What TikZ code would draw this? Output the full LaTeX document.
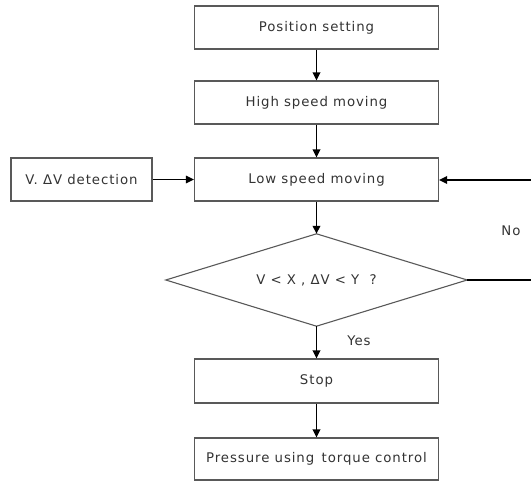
\documentclass[tikz,border=0pt]{standalone}
\usepackage{fontspec}
\setmainfont[LetterSpace=7]{DejaVu Sans}
\usetikzlibrary{arrows.meta}
\begin{document}
\begin{tikzpicture}[x=1pt,y=-1pt,
  box/.style={draw=black!65, line width=1.1pt, rectangle, inner sep=0pt, text=black!80, font=\fontsize{13.3}{15}\selectfont},
  arr/.style={draw=black, line width=1.8pt, -{Triangle[length=8pt,width=7.5pt]}},
  lbl/.style={text=black!80, font=\fontsize{13.3}{15}\selectfont, inner sep=0pt}]
\useasboundingbox (0,0) rectangle (531,481);
\node[box, minimum width=244pt, minimum height=43pt] (pos) at (316.5,27.5) {Position setting};
\node[box, minimum width=244pt, minimum height=43pt] (high) at (316.5,102.5) {High speed moving};
\node[box, minimum width=244pt, minimum height=43pt] (low) at (316.5,179.5) {Low speed moving};
\node[box, minimum width=141pt, minimum height=43pt] (det) at (81.5,179.5) {V. ΔV detection};
\node[lbl, minimum width=301pt, minimum height=92pt] (dia) at (316.5,280) {V < X , ΔV < Y \ ?};
\draw[black!65, line width=1.1pt] (dia.north) -- (dia.east) -- (dia.south) -- (dia.west) -- cycle;
\node[box, minimum width=244pt, minimum height=44pt] (stop) at (316.5,381) {Stop};
\node[box, minimum width=244pt, minimum height=42pt] (press) at (316.5,459) {Pressure using\, torque control};
\node[lbl] (no) at (511,230.5) {No};
\node[lbl] (yes) at (359,341) {Yes};
\coordinate (r1) at (531,280);
\coordinate (r2) at (531,180);
\draw[arr] (pos.south) -- (high.north);
\draw[arr] (high.south) -- (low.north);
\draw[arr, line width=1.5pt] (det.east) -- (low.west);
\draw[arr] (low.south) -- (dia.north);
\draw[arr] (dia.south) -- (stop.north);
\draw[arr] (stop.south) -- (press.north);
\draw[black, line width=1.8pt] (dia.east) -- (r1);
\draw[arr] (r2) -- (low.east|-r2);
\end{tikzpicture}
\end{document}
